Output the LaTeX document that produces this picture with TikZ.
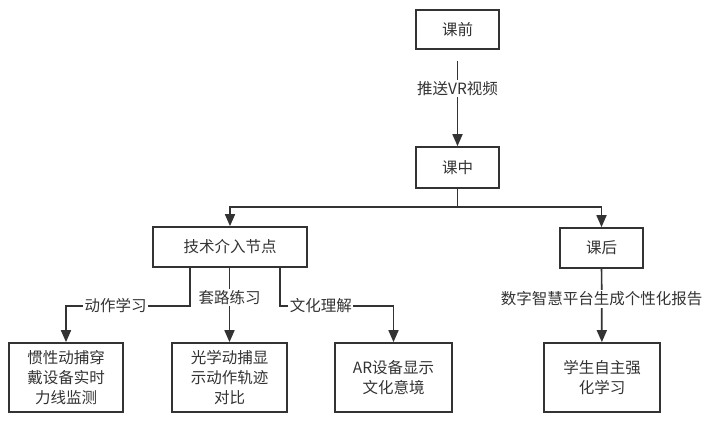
\documentclass[tikz,border=0pt]{standalone}
\usepackage{fontspec}
\newfontfamily\cjk{Noto Sans CJK SC}
\usetikzlibrary{arrows.meta}
\definecolor{ink}{HTML}{333333}

\begin{document}
\begin{tikzpicture}[x=1pt, y=-1pt, font=\cjk\fontsize{15.5}{20}\selectfont, line join=miter, >={Triangle[length=12pt,width=10pt]},
	box/.style={draw=ink, line width=1.7pt, text=ink, align=center, inner sep=0pt},
	lbl/.style={fill=white, text=ink, inner sep=1.5pt},
	arr/.style={draw=ink, line width=1.7pt, ->}]
	\useasboundingbox (0,0) rectangle (706,424);
	\node[box, minimum width=83pt, minimum height=39pt] (pre) at (457.5,29.5) {课前};
	\node[box, minimum width=83pt, minimum height=41pt] (mid) at (457.5,167.5) {课中};
	\node[box, minimum width=154pt, minimum height=40pt] (tech) at (230,247) {技术介入节点};
	\node[box, minimum width=83pt, minimum height=40pt] (post) at (601.5,248) {课后};
	\node[box, minimum width=114pt, minimum height=69pt] (inert) at (66,377.5) {惯性动捕穿\\戴设备实时\\力线监测};
	\node[box, minimum width=115pt, minimum height=69pt] (optic) at (229.5,377.5) {光学动捕显\\示动作轨迹\\对比};
	\node[box, minimum width=117pt, minimum height=69pt] (ar) at (393.5,377.5) {AR设备显示\\文化意境};
	\node[box, minimum width=116pt, minimum height=69pt] (self) at (602,377.5) {学生自主强\\化学习};
	\path
	(457.5,207) coordinate (split)
	(190,267) coordinate (t1)
	(280,267) coordinate (t3)
	(66,306) coordinate (k1)
	(393.5,306) coordinate (k3)
		;
	\draw[arr, shorten <=11pt] (pre) -- node[lbl, pos=0.4]{推送VR视频} (mid);
	\draw[arr] (mid.south) -- (split) -| (tech.north);
	\draw[arr] (split) -| (post.north);
	\draw[arr] (t1) |- node[lbl, pos=0.8]{动作学习} (k1) -- (inert.north);
	\draw[arr] (tech.south -| optic.north) -- node[lbl, pos=0.4]{套路练习} (optic.north);
	\draw[arr] (t3) |- node[lbl, pos=0.68]{文化理解} (k3) -- (ar.north);
	\draw[arr] (post) -- node[lbl, pos=0.41]{数字智慧平台生成个性化报告} (self);
\end{tikzpicture}
\end{document}
